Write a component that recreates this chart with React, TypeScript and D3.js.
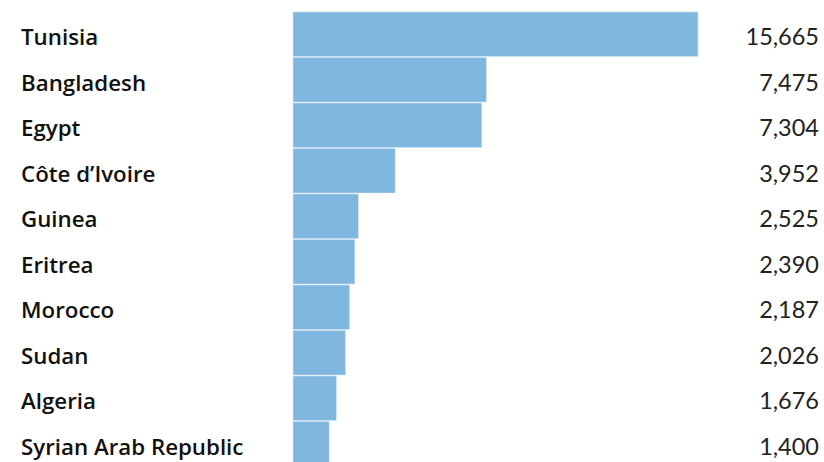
import React from "react";
import * as d3 from "d3";

const countries = ["Tunisia", "Bangladesh", "Egypt", "Côte d’Ivoire", "Guinea", "Eritrea", "Morocco", "Sudan", "Algeria", "Syrian Arab Republic"];
const values = [15665, 7475, 7304, 3952, 2525, 2390, 2187, 2026, 1676, 1400];

const W = 824;
const H = 462;

export default function App() {
  const x = d3.scaleLinear().domain([0, d3.max(values) as number]).range([293, 698]);
  const y = d3.scaleBand<string>().domain(countries).range([12, 12 + 45.5 * countries.length]).padding(0);
  const fmt = d3.format(",");
  return (
    <svg width={W} height={H} style={{ position: "fixed", left: 0, top: 0, display: "block" }}>
      <rect x={0} y={0} width={W} height={H} fill="#ffffff" />
      {countries.map((c, i) => {
        const top = y(c) as number;
        return (
          <g key={c}>
            <rect x={x(0)} y={top} width={x(values[i]) - x(0)} height={y.bandwidth() - 1} fill="#7fb7de" stroke="#cfe3f2" strokeWidth={0.6} />
            <text x={21} y={top + 33} fontFamily="'Open Sans', sans-serif" fontWeight={600} fontSize={22.3} fill="#111">{c}</text>
            <text x={819} y={top + 33} textAnchor="end" fontFamily="Lato, sans-serif" fontWeight={400} fontSize={23.5} fill="#222">{fmt(values[i])}</text>
          </g>
        );
      })}
    </svg>
  );
}
